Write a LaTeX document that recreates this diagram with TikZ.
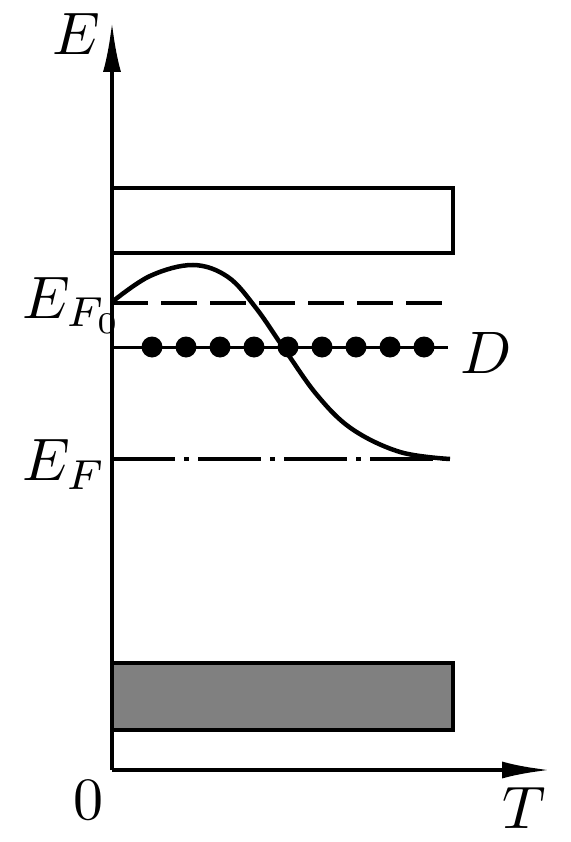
\documentclass[tikz,border=0pt]{standalone}
\usetikzlibrary{arrows.meta}
\newcommand{\lblbig}[1]{\scalebox{6}{$#1$}}
\begin{document}
\begin{tikzpicture}[x=1pt,y=-1pt,
  axis/.style={line width=4pt},
  band/.style={line width=4pt},
  lbl/.style={inner sep=0pt},
  curve/.style={line width=4.5pt},
  dot/.style={circle,fill=black,inner sep=0pt,minimum size=21pt}]
\useasboundingbox (0,0) rectangle (570,842);
\fill[white] (0,0) rectangle (570,842);
% axes
\coordinate (O) at (112,770);
\coordinate (Etip) at (112,22);
\coordinate (Ttip) at (550,770);
\draw[axis,-{Latex[length=50pt,width=18pt]}] (O) -- (Etip);
\draw[axis,-{Latex[length=48pt,width=17pt]}] (O) -- (Ttip);
% bands
\draw[band] (112,188) rectangle (453,253);
\draw[band,fill=black!50] (112,663) rectangle (453,730);
% E_F0 dashed level
\coordinate (F0a) at (112,303);
\coordinate (F0b) at (442,303);
\draw[line width=4pt,dash pattern=on 36pt off 13pt] (F0a) -- (F0b);
% donor level
\coordinate (Da) at (112,347);
\coordinate (Db) at (448,347);
\draw[line width=3pt] (Da) -- (Db);
\foreach \i in {0,...,8}{
  \node[dot] (d\i) at (152+34*\i,347) {};
}
% E_F dash-dot level
\coordinate (Fa) at (112,459);
\coordinate (Fb) at (450,459);
\draw[line width=3.5pt,dash pattern=on 63pt off 9pt on 5pt off 9pt] (Fa) -- (Fb);
% Fermi level curve
\draw[curve] plot[smooth,tension=0.6] coordinates {(112,302) (150,276) (193,265) (228,277) (256,308) (283,347) (317,395) (352,429) (400,452) (450,459)};
% labels
\node[lbl,anchor=base] (E) at (76,55) {\lblbig{E}};
\node[lbl,anchor=base west] (EF0) at (22,318) {\lblbig{E_{F_0}}};
\node[lbl,anchor=base west] (EF) at (22,480) {\lblbig{E_F}};
\node[lbl,anchor=base west] (D) at (460,373) {\lblbig{D}};
\node[lbl,anchor=base] (zero) at (88,819) {\lblbig{0}};
\node[lbl,anchor=base] (T) at (524,828) {\lblbig{T}};
\end{tikzpicture}
\end{document}
